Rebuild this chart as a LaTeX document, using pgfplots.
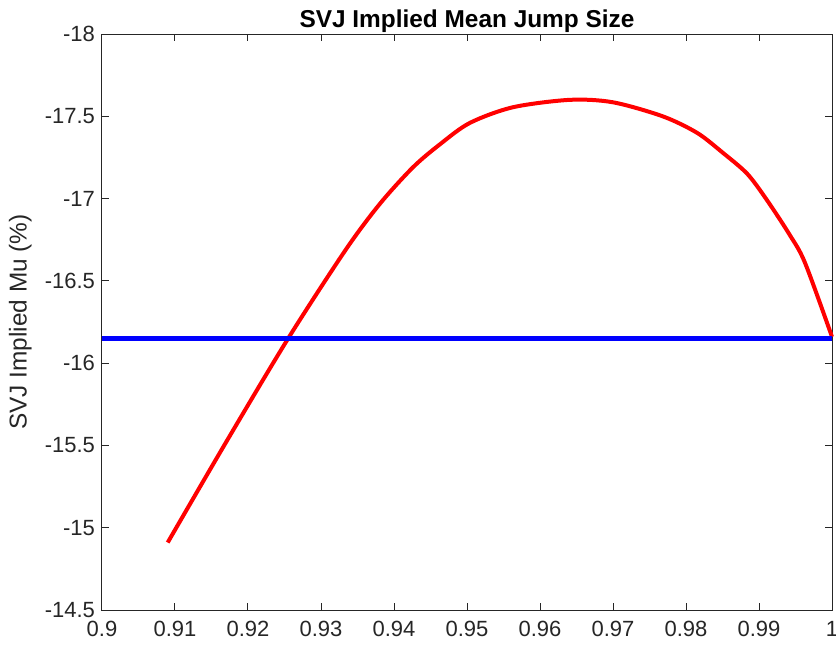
\documentclass[border=0pt]{standalone}
\usepackage{fontspec}
\setmainfont{Liberation Sans}
\usepackage{pgfplots}
\pgfplotsset{compat=1.18}
\definecolor{axgray}{RGB}{38,38,38}
\begin{document}
\begin{tikzpicture}
\begin{axis}[
  name=ax,
  scale only axis,
  width=365pt, height=288pt,
  xmin=0.9, xmax=1, ymin=-18, ymax=-14.5,
  y dir=reverse,
  xtick={0.9,0.91,...,1.001},
  xticklabels={0.9,0.91,0.92,0.93,0.94,0.95,0.96,0.97,0.98,0.99,1},
  ytick={-18,-17.5,-17,-16.5,-16,-15.5,-15,-14.5},
  yticklabels={-18,-17.5,-17,-16.5,-16,-15.5,-15,-14.5},
  tick align=inside,
  major tick length=3.5pt,
  axis line style={axgray, line width=0.5pt},
  tick style={axgray, line width=0.5pt},
  ticklabel style={font=\fontsize{11}{13}\selectfont, text=axgray},
  xticklabel style={yshift=-2pt},
  title={SVJ Implied Mean Jump Size},
  title style={font=\fontsize{12.2}{14}\selectfont\bfseries, at={(axis description cs:0.5,1)}, anchor=south, yshift=-9pt},
  ylabel={SVJ Implied Mu (\%)},
  ylabel style={font=\fontsize{12.2}{14}\selectfont, text=axgray, at={(axis description cs:-0.112,0.5)}, anchor=center},
  clip=false,
]
\addplot[red, line width=2pt, smooth, tension=0.5] coordinates {
(0.9090,-14.91) (0.9170,-15.52) (0.9255,-16.15) (0.9334,-16.69) (0.9381,-16.97)
(0.9426,-17.19) (0.9463,-17.33) (0.9504,-17.46) (0.9563,-17.555) (0.9641,-17.60)
(0.9700,-17.585) (0.9768,-17.50) (0.9815,-17.40) (0.9850,-17.28) (0.9884,-17.15)
(0.9911,-16.99) (0.9942,-16.78) (0.9963,-16.61) (1.0000,-16.16)
};
\addplot[blue, line width=2.4pt] coordinates {(0.9,-16.152) (1.0,-16.152)};
\end{axis}
\pgfresetboundingbox
\path[use as bounding box] ([xshift=-51pt,yshift=-18.5pt]ax.south west) rectangle ([xshift=2pt,yshift=17pt]ax.north east);
\end{tikzpicture}
\end{document}
